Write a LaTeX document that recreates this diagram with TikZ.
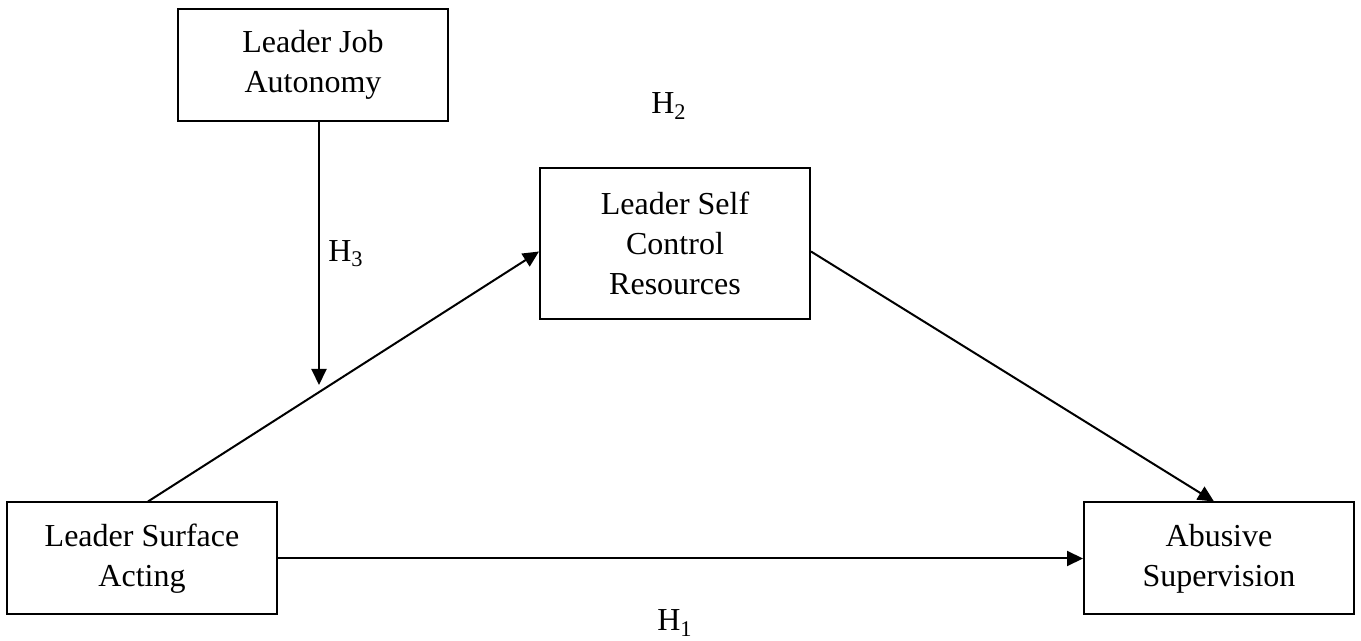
\documentclass[tikz,border=0pt]{standalone}
\usepackage{fontspec}
\setmainfont{Liberation Serif}
\usetikzlibrary{arrows.meta, positioning, calc}

\tikzset{
	varbox/.style={draw, line width=1pt, minimum width=135pt, align=center, font=\fontsize{16}{20}\selectfont, inner sep=0pt},
	hlabel/.style={font=\fontsize{16}{20}\selectfont, inner sep=1pt},
	path/.style={line width=1pt, -{Triangle[length=8pt, width=7.5pt]}}
}

\begin{document}
\begin{tikzpicture}[x=0.5pt, y=-0.5pt]
			\useasboundingbox (0,0) rectangle (1361,641);
			
			\node[varbox, minimum height=56pt] at (313,65) (lja){Leader Job\\Autonomy};
			\node[varbox, minimum height=75.5pt] at (675,243.5) (lsc){Leader Self\\Control\\Resources};
			\node[varbox, minimum height=56pt] at (142,558.5) (lsa){Leader Surface\\Acting};
			\node[varbox, minimum height=56pt] at (1219,558.5) (abs){Abusive\\Supervision};
			\coordinate (mod) at (319,385);
			
			\draw[path] ([xshift=3pt]lsa.north) to ([yshift=-4pt]lsc.west);
			\draw[path] ([yshift=-4pt]lsc.east) to ([xshift=-2.5pt]abs.north);
			\draw[path] (lsa.east) to (abs.west);
			\draw[path] ([xshift=3pt]lja.south) to (mod);
			
			\node[hlabel] at (669,106) (h2){H\textsubscript{2}};
			\node[hlabel] at (346,254) (h3){H\textsubscript{3}};
			\node[hlabel] at (675,623) (h1){H\textsubscript{1}};
			\end{tikzpicture}
\end{document}
